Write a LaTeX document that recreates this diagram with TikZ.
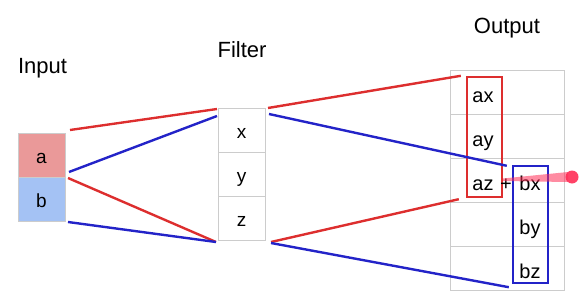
\documentclass[tikz,border=0pt]{standalone}
\usepackage{fontspec}
\setmainfont{Liberation Sans}
\usetikzlibrary{positioning}

\definecolor{wirered}{HTML}{DD2E2E}
\definecolor{wireblue}{HTML}{2323C8}
\definecolor{cellgray}{HTML}{CCCCCC}
\definecolor{pinkfill}{HTML}{EA9999}
\definecolor{bluefill}{HTML}{A4C2F4}
\definecolor{pointer}{HTML}{FF2D55}

\begin{document}
\begin{tikzpicture}[
    x=1pt, y=-1pt,
    % Node Styles
    cell/.style={rectangle, draw=cellgray, line width=1pt, minimum width=47pt, minimum height=44pt, inner sep=0pt, outer sep=0pt, text height=18pt, text depth=2pt, font=\fontsize{19}{22}\selectfont},
    row/.style={rectangle, draw=cellgray, line width=1pt, minimum width=114pt, minimum height=44pt, inner sep=0pt, outer sep=0pt},
    entry/.style={anchor=base, inner sep=0pt, font=\fontsize{20}{24}\selectfont},
    title/.style={anchor=base, inner sep=0pt, font=\fontsize{22}{26}\selectfont},
    group/.style={rectangle, line width=2.4pt, inner sep=0pt, minimum width=35pt},
    % Edge Styles
    redwire/.style={draw=wirered, line width=2.4pt},
    bluewire/.style={draw=wireblue, line width=2.4pt}
]
\useasboundingbox (0,0) rectangle (583,305);

% --- 1. Titles ---
\node[title] (intitle) at (42.5,74) {Input};
\node[title] (filtertitle) at (242,58) {Filter};
\node[title] (outtitle) at (507,34) {Output};

% --- 2. Input ---
\node[cell, fill=pinkfill] (a) at (41.5,155) {a};
\node[cell, fill=bluefill, below=0pt of a] (b) {b};

% --- 3. Filter ---
\node[cell] (x) at (241.5,130) {x};
\node[cell, below=0pt of x] (y) {y};
\node[cell, below=0pt of y] (z) {z};

% --- 4. Output table ---
\node[row] (o1) at (507,92) {};
\node[row, below=0pt of o1] (o2) {};
\node[row, below=0pt of o2] (o3) {};
\node[row, below=0pt of o3] (o4) {};
\node[row, below=0pt of o4] (o5) {};

% --- Edges ---
% Input to filter
\draw[redwire] ([xshift=5pt,yshift=3pt]a.north east) -- ([xshift=-1pt,yshift=-1pt]x.north west);
\draw[bluewire] ([xshift=4pt,yshift=5pt]a.south east) -- ([xshift=-1pt,yshift=-8pt]x.north west);
\draw[redwire] ([xshift=3pt,yshift=-1pt]b.north east) -- ([xshift=-2pt,yshift=-2pt]z.south west);
\draw[bluewire] ([xshift=3pt,yshift=-1pt]b.south east) -- ([xshift=-2pt,yshift=-2pt]z.south west);

% --- Groups ---
\node[group, draw=wirered, minimum height=120pt] (redgroup) at (484.5,137) {};
\node[group, draw=wireblue, minimum height=117pt] (bluegroup) at (530.5,224.5) {};

% Filter to output
\draw[redwire] ([xshift=3pt]x.north east) -- ([xshift=-5pt]redgroup.north west);
\draw[bluewire] ([xshift=4pt,yshift=-6pt]x.north east) -- ([xshift=-5pt,yshift=-1pt]bluegroup.north west);
\draw[redwire] ([xshift=6pt,yshift=-2pt]z.south east) -- ([xshift=-7pt,yshift=-1pt]redgroup.south west);
\draw[bluewire] ([xshift=6pt,yshift=-3pt]z.south east) -- ([xshift=-3pt,yshift=-3pt]bluegroup.south west);

% --- Output entries ---
\node[entry] (ax) at ([xshift=33pt,yshift=-10pt]o1.west) {ax};
\node[entry] (ay) at ([xshift=33pt,yshift=-10pt]o2.west) {ay};
\node[entry] (az) at ([xshift=33pt,yshift=-10pt]o3.west) {az};
\node[entry] (plus) at ([xshift=56pt,yshift=-10pt]o3.west) {+};
\node[entry] (bx) at ([xshift=80pt,yshift=-10pt]o3.west) {bx};
\node[entry] (by) at ([xshift=80pt,yshift=-10pt]o4.west) {by};
\node[entry] (bz) at ([xshift=80pt,yshift=-10pt]o5.west) {bz};

% Pointer
\fill[pointer, opacity=0.55] (503,178.5) -- (568,172) -- (568,182) -- (503,181) -- cycle;
\fill[pointer, opacity=0.9] (572,177) circle (6.5);

\end{tikzpicture}
\end{document}
